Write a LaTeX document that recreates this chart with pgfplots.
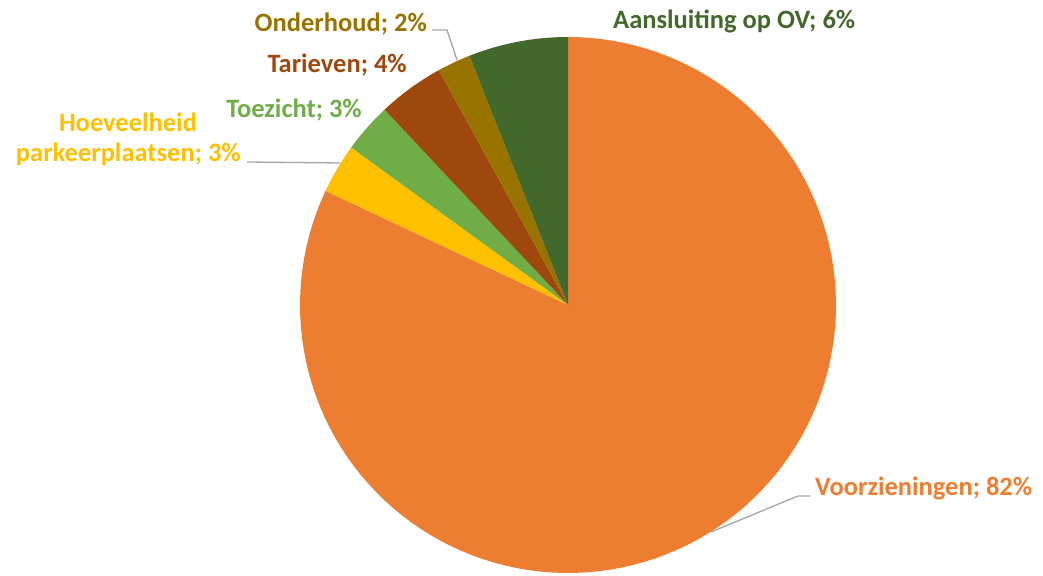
\documentclass[border=0pt]{standalone}
\usepackage{pgfplots}
\pgfplotsset{compat=1.18}
\usepackage{fontspec}
\setmainfont{Carlito}
\definecolor{cOrange}{HTML}{ED7D31}
\definecolor{cYellow}{HTML}{FFC000}
\definecolor{cGreen}{HTML}{70AD47}
\definecolor{cBrown}{HTML}{9E480E}
\definecolor{cGold}{HTML}{997300}
\definecolor{cDkGreen}{HTML}{43682B}
\definecolor{cLead}{HTML}{A6A6A6}
% slice values (percent), drawn clockwise from 12 o'clock
\def\slices{82/cOrange, 3/cYellow, 3/cGreen, 4/cBrown, 2/cGold, 6/cDkGreen}
\def\cx{568}\def\cy{270}\def\rr{268}
\begin{document}
\begin{tikzpicture}
\begin{axis}[
  scale only axis, width=1043pt, height=575pt,
  xmin=0, xmax=1043, ymin=0, ymax=575,
  hide axis, clip=false,
]
\path (axis cs:0,0) rectangle (axis cs:1043,575);
\xdef\startang{90}
\foreach \v/\c in \slices {
  \pgfmathsetmacro\endang{\startang-3.6*\v}
  \edef\temp{\noexpand\addplot[fill=\c, draw=none, domain=\endang:\startang, samples=120, variable=\noexpand\t]
    ({\cx+\rr*cos(\noexpand\t)},{\cy+\rr*sin(\noexpand\t)}) -- (axis cs:\cx,\cy) -- cycle;}
  \temp
  \xdef\startang{\endang}
}
% leader lines
\addplot[cLead, line width=1.3pt] coordinates {(810,79) (798,79) (711,43)};
\addplot[cLead, line width=1.3pt] coordinates {(247,413) (340,412)};
\addplot[cLead, line width=1.3pt] coordinates {(432,545) (447,545) (457,515)};
% labels
\begin{scope}[every node/.style={font=\fontsize{26.5}{32}\selectfont\bfseries, inner sep=0pt}]
\node[anchor=base west, text=cDkGreen] at (axis cs:613,546) {Aansluiting op OV; 6\%};
\node[anchor=base east, text=cGold] at (axis cs:427,543) {Onderhoud; 2\%};
\node[anchor=base east, text=cBrown] at (axis cs:407,502) {Tarieven; 4\%};
\node[anchor=base east, text=cGreen] at (axis cs:362,457) {Toezicht; 3\%};
\node[anchor=base, text=cYellow] at (axis cs:128,443) {Hoeveelheid};
\node[anchor=base east, text=cYellow] at (axis cs:241,413) {parkeerplaatsen; 3\%};
\node[anchor=base west, text=cOrange] at (axis cs:815,79) {Voorzieningen; 82\%};
\end{scope}
\end{axis}
\end{tikzpicture}
\end{document}
